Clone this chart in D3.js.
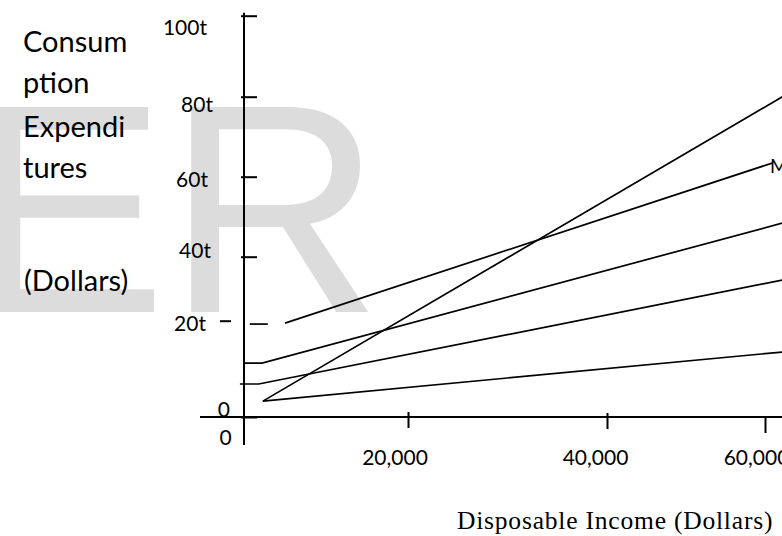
<!DOCTYPE html>
<html><head><meta charset="utf-8">
<script src="https://cdn.jsdelivr.net/npm/d3@7"></script>
<style>body{margin:0;background:#fff} svg{display:block}</style>
</head><body>
<svg id="c" width="782" height="536"></svg>
<script>
// ---------- data ----------
const yTickValues = [0, 20, 40, 60, 80, 100];
const yTickLabels = ["0", "20t", "40t", "60t", "80t", "100t"];
const xTickValues = [0, 20000, 40000, 60000];
const xTickLabels = ["0", "20,000", "40,000", "60,000"];
const yTitleLines = ["Consum", "ption", "Expendi", "tures"];
const yTitleUnit = "(Dollars)";
const xTitle = "Disposable Income (Dollars)";
const watermark = "ER";
const lineLabel = "M";
// consumption schedules: [disposable income, consumption (thousands)]
const scheduleM = [[5000, 19.5], [60900, 63.4]];
const scheduleMStub = [[700, 19.3], [2900, 19.3]];
const scheduleB = [[0, 11.2], [2200, 11.2], [62200, 48.4]];
const scheduleC = [[-500, 6.85], [1800, 6.85], [62200, 32.7]];
const scheduleD = [[2300, 3.3], [62200, 13.5]];
const scheduleSteep = [[2300, 3.3], [62200, 80]];

// ---------- layout ----------
const W = 782, H = 536;
const svg = d3.select("#c");
const x = d3.scaleLinear().domain(xTickValues).range([244, 408, 607, 765]);
const y = d3.scaleLinear().domain(yTickValues).range([417, 320.7, 256.7, 176.7, 96.7, 15.7]);
const sans = "Lato, 'Open Sans', sans-serif";

// watermark
svg.append("text").attr("x", -32).attr("y", 312)
  .attr("font-family", "'Liberation Sans', Arial, sans-serif").attr("font-size", 298)
  .attr("fill", "#dcdcdc").text(watermark);

// axis lines
svg.append("line").attr("x1", x(0)).attr("x2", x(0)).attr("y1", y(100) - 3).attr("y2", y(0) + 28)
  .attr("stroke", "#000").attr("stroke-width", 2);
svg.append("line").attr("x1", x(0) - 44).attr("x2", W).attr("y1", y(0)).attr("y2", y(0))
  .attr("stroke", "#000").attr("stroke-width", 2);

// y axis ticks + labels
const yLabelDy = {0: -9, 20: 1, 40: -8, 60: 1, 80: 6, 100: 10};
const yLabelDx = {0: 22, 20: -2, 40: 3, 60: 0, 80: 5, 100: -1};
const yAxis = d3.axisLeft(y).tickValues(yTickValues)
  .tickFormat((d, i) => yTickLabels[i]).tickSizeInner(-13).tickSizeOuter(0).tickPadding(36);
const gy = svg.append("g").attr("transform", `translate(${x(0)},0)`).call(yAxis);
gy.select(".domain").remove();
gy.selectAll(".tick line").attr("stroke-width", 2)
  .attr("x1", d => d === 20 ? -24 : -3).attr("x2", d => d === 20 ? -13 : 13);
gy.selectAll(".tick text").attr("font-family", sans).attr("font-size", 21).attr("fill", "#000")
  .attr("dy", d => (yLabelDy[d]) + "px").attr("x", d => -36 + yLabelDx[d])
  .attr("dominant-baseline", "central");

// x axis ticks + labels
const xTickTop = {0: 0, 20000: -5, 40000: -4, 60000: 0};
const xLabelDx = {0: -19, 20000: -13.5, 40000: -12, 60000: -9};
const xLabelBase = {0: 28, 20000: 48, 40000: 48, 60000: 48};
const xAxis = d3.axisBottom(x).tickValues(xTickValues)
  .tickFormat((d, i) => xTickLabels[i]).tickSizeInner(16).tickSizeOuter(0);
const gx = svg.append("g").attr("transform", `translate(0,${y(0)})`).call(xAxis);
gx.select(".domain").remove();
gx.selectAll(".tick line").attr("stroke-width", 2)
  .attr("y1", d => xTickTop[d]).attr("y2", d => d === 0 ? 0 : xTickTop[d] + 16);
gx.selectAll(".tick text").attr("font-family", sans).attr("font-size", 21).attr("fill", "#000")
  .attr("dy", null).attr("y", d => xLabelBase[d]).attr("x", d => xLabelDx[d]);

// schedules
const line = d3.line().x(d => x(d[0])).y(d => y(d[1]));
[scheduleMStub, scheduleM, scheduleB, scheduleC, scheduleD, scheduleSteep].forEach(s => {
  svg.append("path").datum(s).attr("d", line).attr("fill", "none")
    .attr("stroke", "#000").attr("stroke-width", 1.7);
});
svg.append("text").attr("x", x(scheduleM[1][0]) - 2).attr("y", y(scheduleM[1][1]) + 10)
  .attr("font-family", sans).attr("font-size", 19).attr("fill", "#000").text(lineLabel);

// titles
const yt = svg.append("g").attr("font-family", sans).attr("font-size", 29).attr("fill", "#000");
const yBase = [52, 93, 137, 178];
yTitleLines.forEach((t, i) => yt.append("text").attr("x", 23).attr("y", yBase[i]).text(t));
yt.append("text").attr("x", 24).attr("y", 291).text(yTitleUnit);
svg.append("text").attr("x", 457).attr("y", 529)
  .attr("font-family", "'Liberation Serif', 'Times New Roman', serif").attr("font-size", 25.5)
  .attr("letter-spacing", 0.8).attr("fill", "#000").text(xTitle);
</script>
</body></html>
